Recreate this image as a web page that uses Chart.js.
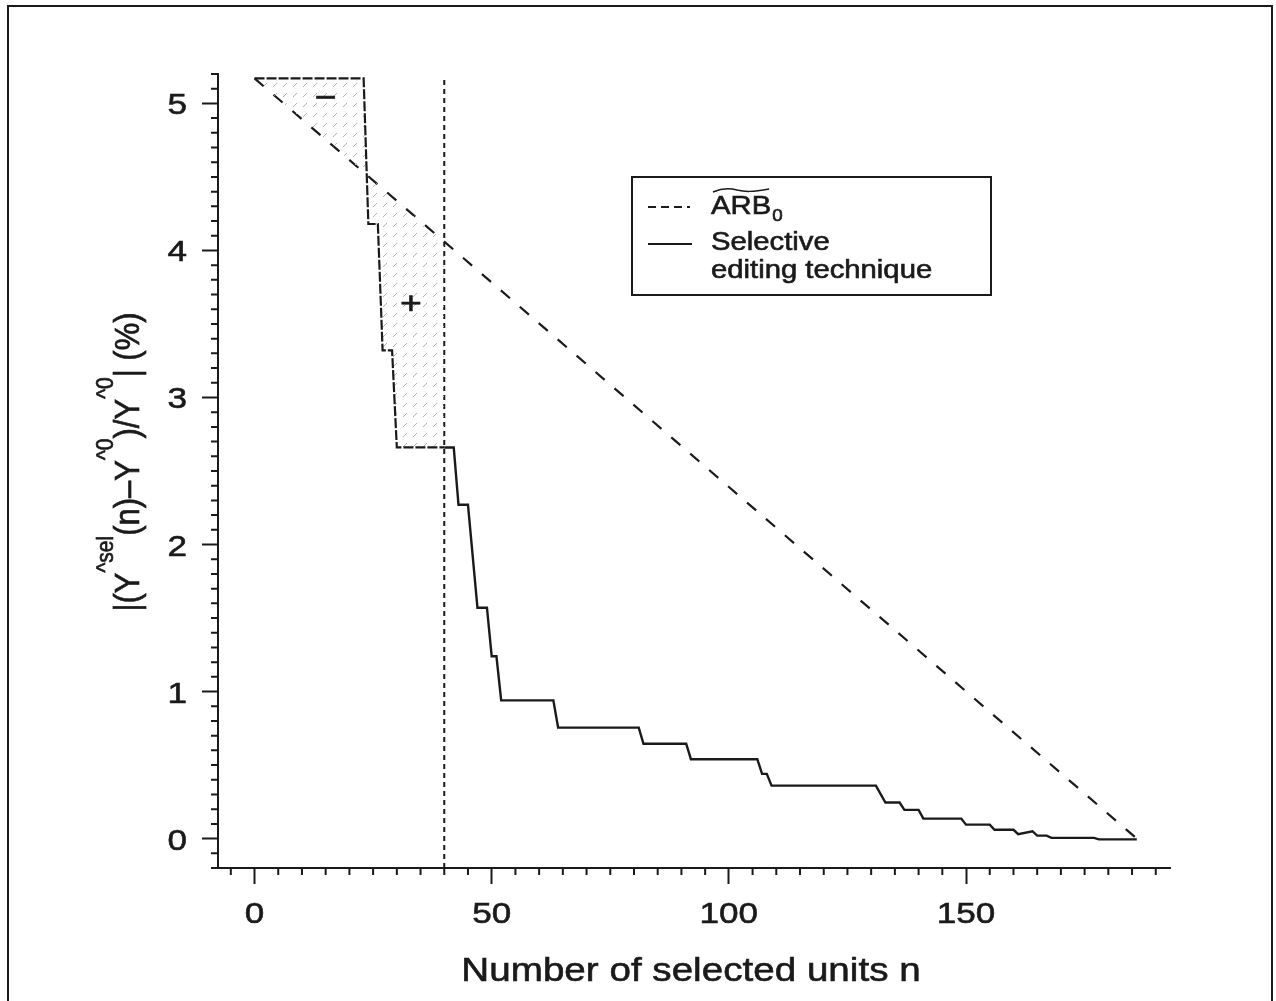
<!DOCTYPE html>
<html>
<head>
<meta charset="utf-8">
<script src="https://cdn.jsdelivr.net/npm/chart.js@4.4.0/dist/chart.umd.min.js"></script>
<style>
  body { margin: 0; background: #fff; }
  #myChart { display: block; }
</style>
</head>
<body>
<canvas id="myChart" width="1276" height="1001"></canvas>
<script>
// step curve of the selective editing technique (n, value in %)
var stepN = [0, 23, 24, 26, 27, 29, 30, 42, 43, 45, 47, 49, 50, 51, 52, 63, 64, 81, 82, 91, 92,
  106, 107, 108, 109, 131, 133, 136, 137, 140, 141, 149, 150, 155, 156, 160, 161, 164, 165,
  167, 168, 177, 178, 186];
var stepValues = [5.17, 5.17, 4.18, 4.18, 3.32, 3.32, 2.66, 2.66, 2.27, 2.27, 1.57, 1.57, 1.24,
  1.24, 0.94, 0.94, 0.755, 0.755, 0.645, 0.645, 0.54, 0.54, 0.44, 0.44, 0.36, 0.36, 0.245,
  0.245, 0.195, 0.195, 0.136, 0.136, 0.095, 0.095, 0.06, 0.06, 0.03, 0.05, 0.02, 0.02, 0.005,
  0.005, -0.005, -0.005];
// straight ARB_0 line
var arbN = [0, 40, 186];
var arbValues = [5.17, 4.06, 0];
// cut-off (dotted vertical line)
var cutoffN = 40;
var cutoffValues = [-0.2, 5.16];
// tick labels
var xTicks = [0, 50, 100, 150];
var yTicks = [0, 1, 2, 3, 4, 5];

var ink = '#1a1a1a';
var FONT = "'Liberation Sans', Arial, Helvetica, sans-serif";
var SX = 1.17; // the original figure is a bit stretched sideways

// points of the step curve left and right of the cut-off
var leftPts = [];
var rightPts = [{ x: cutoffN, y: 2.66 }];
for (var i = 0; i < stepN.length; i++) {
  if (stepN[i] <= cutoffN) leftPts.push({ x: stepN[i], y: stepValues[i] });
  else rightPts.push({ x: stepN[i], y: stepValues[i] });
}
leftPts.push({ x: cutoffN, y: 2.66 });
var arbPts = arbN.map(function (n, i) { return { x: n, y: arbValues[i] }; });
var cutPts = cutoffValues.map(function (v) { return { x: cutoffN, y: v }; });

var canvas = document.getElementById('myChart');
var ctx = canvas.getContext('2d');

// small grey strokes used for the shaded area
function makeHatch() {
  var c = document.createElement('canvas');
  c.width = 10;
  c.height = 10;
  var g = c.getContext('2d');
  g.strokeStyle = '#b4b4b4';
  g.lineWidth = 1;
  g.beginPath();
  g.moveTo(3, 7);
  g.lineTo(7, 3);
  g.stroke();
  return ctx.createPattern(c, 'repeat');
}

// text drawn a bit wider and heavier, like the scanned figure
function wideText(c, txt, x, y, align) {
  var w = c.measureText(txt).width * SX;
  var left = align === 'center' ? x - w / 2 : align === 'right' ? x - w : x;
  c.save();
  c.translate(left, y);
  c.scale(SX, 1);
  c.textAlign = 'left';
  c.lineWidth = 0.6;
  c.fillText(txt, 0, 0);
  c.strokeText(txt, 0, 0);
  c.restore();
  return w;
}

var decorations = {
  id: 'decorations',
  afterDraw: function (chart) {
    var c = chart.ctx;
    var xs = chart.scales.x;
    var ys = chart.scales.y;
    var area = chart.chartArea;
    c.save();
    c.strokeStyle = ink;
    c.fillStyle = ink;
    c.lineWidth = 2;

    // minor ticks
    c.beginPath();
    for (var v = -5; v <= 190; v += 5) {
      if (v % 50 === 0) continue;
      var px = xs.getPixelForValue(v);
      c.moveTo(px, area.bottom);
      c.lineTo(px, area.bottom + 7);
    }
    for (var k = -2; k <= 52; k++) {
      if (k % 10 === 0) continue;
      var py = ys.getPixelForValue(k / 10);
      c.moveTo(area.left - 7, py);
      c.lineTo(area.left, py);
    }
    c.stroke();

    // tick labels
    c.font = '30px ' + FONT;
    c.textBaseline = 'alphabetic';
    xTicks.forEach(function (t) {
      wideText(c, String(t), xs.getPixelForValue(t), 923, 'center');
    });
    yTicks.forEach(function (t) {
      wideText(c, String(t), 187, ys.getPixelForValue(t) + 11, 'right');
    });

    // x title
    c.font = '33px ' + FONT;
    wideText(c, 'Number of selected units n', 691, 981, 'center');

    // y title, rotated, with superscripts
    var parts = [
      ['|(Y', 0], ['^sel', 1], ['(n)\u2013Y', 0], ['^0', 1], [')/Y', 0], ['^0', 1], ['| (%)', 0]
    ];
    var mainF = '31px ' + FONT;
    var supF = '21px ' + FONT;
    var total = 0;
    parts.forEach(function (p) {
      c.font = p[1] ? supF : mainF;
      total += c.measureText(p[0]).width;
    });
    c.save();
    c.translate(139, 462 + total / 2);
    c.scale(1.15, 1);
    c.rotate(-Math.PI / 2);
    c.textAlign = 'left';
    c.lineWidth = 0.6;
    var pos = 0;
    parts.forEach(function (p) {
      c.font = p[1] ? supF : mainF;
      c.fillText(p[0], pos, p[1] ? -23 : 0);
      c.strokeText(p[0], pos, p[1] ? -23 : 0);
      pos += c.measureText(p[0]).width;
    });
    c.restore();

    // signs inside the shaded area
    c.font = '32px ' + FONT;
    c.textBaseline = 'middle';
    wideText(c, '\u2212', xs.getPixelForValue(15), ys.getPixelForValue(5.03), 'center');
    wideText(c, '+', xs.getPixelForValue(33), ys.getPixelForValue(3.63), 'center');
    c.textBaseline = 'alphabetic';

    // legend
    c.lineWidth = 2;
    c.strokeRect(632, 177, 359, 118);
    c.beginPath();
    c.setLineDash([8, 5]);
    c.moveTo(648, 207);
    c.lineTo(690, 207);
    c.stroke();
    c.setLineDash([]);
    c.beginPath();
    c.moveTo(648, 244);
    c.lineTo(692, 244);
    c.stroke();
    c.font = '25px ' + FONT;
    var wArb = wideText(c, 'ARB', 711, 214, 'left');
    c.lineWidth = 1.5;
    c.beginPath();
    c.moveTo(713, 192);
    c.bezierCurveTo(722, 188, 730, 188, 737, 190);
    c.bezierCurveTo(745, 192, 752, 192, 709 + wArb, 189);
    c.stroke();
    c.font = '16px ' + FONT;
    wideText(c, '0', 712 + wArb, 221, 'left');
    c.font = '25px ' + FONT;
    wideText(c, 'Selective', 711, 250, 'left');
    wideText(c, 'editing technique', 711, 278, 'left');

    // frame round the figure
    c.lineWidth = 2;
    c.beginPath();
    c.moveTo(8, 1001);
    c.lineTo(8, 6);
    c.lineTo(1272, 6);
    c.lineTo(1272, 1001);
    c.stroke();
    c.restore();
  }
};

var myChart = new Chart(ctx, {
  type: 'line',
  data: {
    datasets: [
      {
        label: 'shaded',
        data: leftPts,
        borderColor: ink,
        borderWidth: 2.2,
        borderDash: [10, 2],
        backgroundColor: makeHatch(),
        fill: 1,
        pointRadius: 0,
        tension: 0,
      },
      {
        label: 'ARB0',
        data: arbPts,
        borderColor: ink,
        borderWidth: 2.2,
        borderDash: [12, 13],
        fill: false,
        pointRadius: 0,
        tension: 0,
      },
      {
        label: 'Selective editing technique',
        data: rightPts,
        borderColor: ink,
        borderWidth: 2.4,
        fill: false,
        pointRadius: 0,
        tension: 0,
      },
      {
        label: 'cutoff',
        data: cutPts,
        borderColor: ink,
        borderWidth: 2,
        borderDash: [5, 4],
        fill: false,
        pointRadius: 0,
      },
    ],
  },
  options: {
    responsive: false,
    animation: false,
    devicePixelRatio: 1,
    layout: { padding: { top: 74, right: 106, left: 0, bottom: 0 } },
    plugins: { legend: { display: false }, tooltip: { enabled: false } },
    scales: {
      x: {
        type: 'linear',
        min: -7.7,
        max: 193,
        afterBuildTicks: function (s) {
          s.ticks = xTicks.map(function (v) { return { value: v }; });
        },
        afterFit: function (s) { s.height = 133; },
        ticks: { display: false },
        grid: { drawOnChartArea: false, tickLength: 16, tickWidth: 2, tickColor: ink },
        border: { display: true, color: ink, width: 2 },
      },
      y: {
        type: 'linear',
        min: -0.2,
        max: 5.2,
        afterBuildTicks: function (s) {
          s.ticks = yTicks.map(function (v) { return { value: v }; });
        },
        afterFit: function (s) { s.width = 218; },
        ticks: { display: false },
        grid: { drawOnChartArea: false, tickLength: 16, tickWidth: 2, tickColor: ink },
        border: { display: true, color: ink, width: 2 },
      },
    },
  },
  plugins: [decorations],
});
</script>
</body>
</html>
